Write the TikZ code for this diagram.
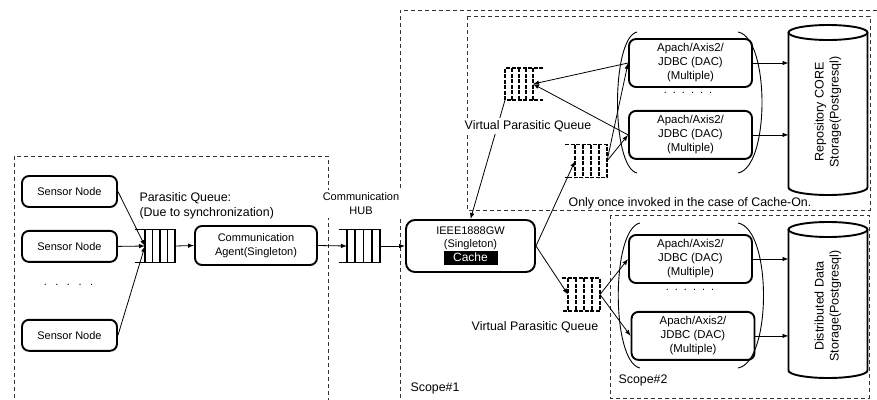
\documentclass[tikz,border=0pt]{standalone}
\usepackage{fontspec}
\setmainfont{Liberation Sans}
\usetikzlibrary{positioning}
\usetikzlibrary{calc}
\usetikzlibrary{arrows.meta}
\tikzstyle{block} = [draw, rounded corners=7pt, line width=1.9pt, align=center, inner sep=2pt, font=\fontsize{11}{13.5}\selectfont]
\tikzstyle{sensor} = [block, minimum width=95pt, minimum height=31pt]
\tikzstyle{agent} = [block, minimum width=122pt, minimum height=39pt]
\tikzstyle{gate} = [block, minimum width=129pt, minimum height=52pt, rounded corners=9pt]
\tikzstyle{dac} = [block, minimum width=123pt, minimum height=48pt, font=\fontsize{11.4}{14}\selectfont]
\tikzstyle{fifo} = [inner sep=0pt, outer sep=0pt, minimum height=33pt]
\tikzstyle{fifoline} = [line width=1.8pt]
\tikzstyle{vfifoline} = [line width=1.6pt, dash pattern=on 4pt off 1.5pt]
\tikzstyle{drum} = [inner sep=0pt, outer sep=0pt, minimum width=79pt, font=\fontsize{12.5}{15}\selectfont]
\tikzstyle{drumline} = [line width=1.9pt]
\tikzstyle{zone} = [line width=0.9pt, dash pattern=on 4pt off 3pt, black!80]
\tikzstyle{note} = [font=\fontsize{12.4}{15}\selectfont]
\tikzstyle{flow} = [->, line width=0.8pt]
\tikzstyle{brace} = [line width=0.9pt]

% queue open on the left / on the right
\newcommand{\fifoL}[3]{%
  \draw[#2] ([xshift=-#3]#1.north west) -- (#1.north east) -- (#1.south east) -- ([xshift=-#3]#1.south west);
  \foreach \k in {0,0.25,0.5,0.75}
    \draw[#2] ($(#1.north west)!\k!(#1.north east)$) -- ($(#1.south west)!\k!(#1.south east)$);
}
\newcommand{\fifoR}[3]{%
  \draw[#2] ([xshift=#3]#1.north east) -- (#1.north west) -- (#1.south west) -- ([xshift=#3]#1.south east);
  \foreach \k in {0.25,0.5,0.75,1}
    \draw[#2] ($(#1.north west)!\k!(#1.north east)$) -- ($(#1.south west)!\k!(#1.south east)$);
}
% database outline round a node
\newcommand{\drumbody}[3]{%
  \draw[drumline] (#1.west |- 0,#2) -- (#1.west |- 0,#3)
    arc[start angle=180, end angle=360, x radius=39.5pt, y radius=7.5pt]
    -- (#1.east |- 0,#2);
  \draw[drumline] (#1.center |- 0,#2) ellipse[x radius=39.5pt, y radius=7.5pt];
}
\newcommand{\cachetag}{{\setlength{\fboxsep}{1.5pt}\colorbox{black}{\makebox[51pt]{\rule[-2.5pt]{0pt}{9.5pt}\fontsize{12}{12}\selectfont\color{white}Cache}}}}
\newcommand{\fivedots}{.\hspace{8.5pt}.\hspace{8.5pt}.\hspace{8.5pt}.\hspace{8.5pt}.}
\newcommand{\sixdots}{.\hspace{6pt}.\hspace{6pt}.\hspace{6pt}.\hspace{6pt}.\hspace{6pt}.}

\begin{document}
\begin{tikzpicture}[x=1pt, y=1pt, >={Latex[length=6pt,width=4.5pt]}]
    \useasboundingbox (0,0) rectangle (877,-399);

    % scopes
    \draw[zone] (14,-405) -- (14,-156) -- (328,-156) -- (328,-405);
    \draw[zone] (400,-405) -- (400,-10) -- (885,-10);
    \draw[zone] (467,-16) rectangle (870,-210);
    \draw[zone] (610,-215) rectangle (869,-398);

    \node [sensor] (sensor1) at (69.5,-191.5) {Sensor Node};
    \node [sensor, below=22pt of sensor1] (sensor2) {Sensor Node};
    \node [sensor, below=56pt of sensor2] (sensor3) {Sensor Node};
    \node [font=\fontsize{11}{13}\selectfont] (sdots) at (68.5,-285) {\fivedots};

    \node [fifo, minimum width=30pt] (pq) at (160,-246) {};
    \fifoL{pq}{fifoline}{10pt}
    \node [agent] (agent) at (256,-245.5) {Communication\\Agent(Singleton)};
    \node [fifo, minimum width=33pt] (hub) at (363.5,-246) {};
    \fifoL{hub}{fifoline}{8pt}
    \node [gate] (gw) at (470.5,-246) {IEEE1888GW\\(Singleton)\\\cachetag};

    \node [fifo, minimum width=28pt, minimum height=32pt] (vq1) at (519,-84) {};
    \fifoR{vq1}{vfifoline}{10pt}
    \node [fifo, minimum width=32pt] (vq2) at (591,-161) {};
    \fifoL{vq2}{vfifoline}{10pt}
    \node [fifo, minimum width=32pt] (vq3) at (584,-294.5) {};
    \fifoL{vq3}{vfifoline}{6pt}

    \node [dac] (dac1) at (690.5,-63) {Apach/Axis2/\\JDBC (DAC)\\(Multiple)};
    \node [dac, below=22pt of dac1] (dac2) {Apach/Axis2/\\JDBC (DAC)\\(Multiple)};
    \node [font=\fontsize{11}{13}\selectfont] (udots) at (688,-93) {\sixdots};
    \node [dac] (dac3) at (690.5,-259) {Apach/Axis2/\\JDBC (DAC)\\(Multiple)};
    \node [dac, below=27pt of dac3, xshift=2.5pt] (dac4) {Apach/Axis2/\\JDBC (DAC)\\(Multiple)};
    \node [font=\fontsize{11}{13}\selectfont] (ldots) at (690,-290) {\sixdots};

    \draw[brace] (637,-32) .. controls (611,-38) and (611,-167) .. (637,-173);
    \draw[brace] (738,-32) .. controls (770,-38) and (770,-167) .. (738,-173);
    \draw[brace] (640,-223) .. controls (611,-229) and (611,-362) .. (640,-368);
    \draw[brace] (738,-223) .. controls (772,-229) and (772,-362) .. (738,-368);

    \node [drum] (repo) at (828,-112) {\rotatebox{90}{\begin{tabular}{@{}c@{}}Repository CORE\\Storage(Postgresql)\end{tabular}}};
    \drumbody{repo}{-32.5}{-187.5}
    \node [drum] (dist) at (828,-306) {\rotatebox{90}{\begin{tabular}{@{}c@{}}Distributed Data\\Storage(Postgresql)\end{tabular}}};
    \drumbody{dist}{-229.5}{-370.5}

    \draw [flow] (sensor1.east) -- (pq.west);
    \draw [flow] (sensor2.east) -- (pq.west);
    \draw [flow] (sensor3.east) -- (pq.west);
    \draw [flow] (pq.east) -- (agent.west);
    \draw [flow] (agent.east) -- (hub.west);
    \draw [flow] (hub.east) -- (gw.west);
    \draw [flow] (gw.east) -- (vq2.west);
    \draw [flow] (gw.east) -- (vq3.west);
    \draw [flow] (vq2.east) -- (dac1.west);
    \draw [flow] (vq2.east) -- (dac2.west);
    \draw [flow] (vq3.east) -- (dac3.west);
    \draw [flow] (vq3.east) -- (dac4.west);
    \draw [flow] (dac1.west) -- (vq1.east);
    \draw [flow] (dac2.west) -- (vq1.east);
    \draw [flow] (vq1.south west) -- (gw.north);
    \draw [flow] (dac1.east) -- (dac1.east -| repo.west);
    \draw [flow] (dac2.east) -- (dac2.east -| repo.west);
    \draw [flow] (dac3.east) -- (dac3.east -| dist.west);
    \draw [flow] (dac4.east) -- (dac4.east -| dist.west);

    \node [note, align=left, anchor=west] (pqnote) at (136,-205.5) {Parasitic Queue:\\(Due to synchronization)};
    \node [font=\fontsize{11}{14}\selectfont, align=center, fill=white, inner sep=3pt] (hubnote) at (361,-204) {Communication\\HUB};
    \node [note, fill=white, inner sep=2pt] (vnote1) at (528,-126) {Virtual Parasitic Queue};
    \node [note] (vnote2) at (535,-327) {Virtual Parasitic Queue};
    \node [note] (cachenote) at (690,-203) {Only once invoked in the case of Cache-On.};
    \node [note, anchor=west] (scope1) at (407,-388) {Scope\#1};
    \node [note, anchor=west] (scope2) at (615,-380) {Scope\#2};
\end{tikzpicture}
\end{document}
